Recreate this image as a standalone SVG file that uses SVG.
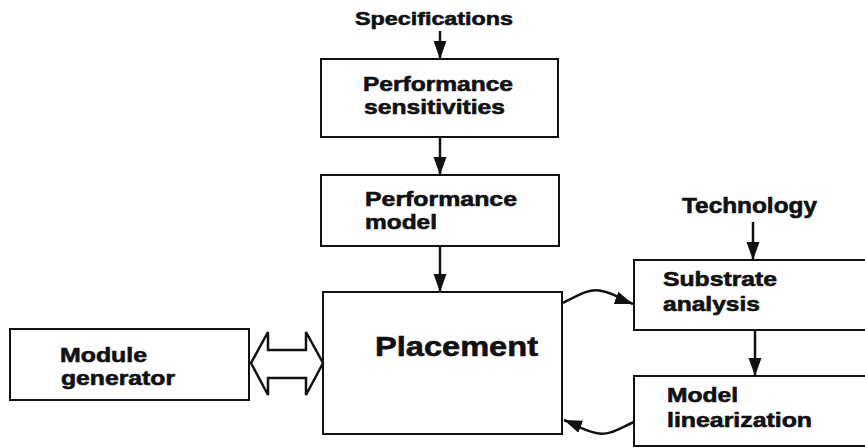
<svg xmlns="http://www.w3.org/2000/svg" width="865" height="448" viewBox="0 0 865 448">
  <style>
    .box { fill: #fff; stroke: #111; stroke-width: 2; }
    .lbl { font-family: "Liberation Sans", Arial, sans-serif; font-weight: bold; fill: #111; stroke: #111; stroke-width: 0.6; font-size: 20px; }
    .wire { fill: none; stroke: #111; stroke-width: 2.5; }
  </style>
  <defs>
    <marker id="head" markerUnits="userSpaceOnUse" markerWidth="19" markerHeight="14" refX="18" refY="6.5" orient="auto">
      <path d="M0,0 L18,6.5 L0,13 Z" fill="#111"/>
    </marker>
  </defs>
  <rect width="865" height="448" fill="#fff"/>

  <!-- free-standing inputs -->
  <text class="lbl" x="355" y="25" style="font-size:19px" textLength="158" lengthAdjust="spacingAndGlyphs">Specifications</text>
  <text class="lbl" x="682" y="213" style="font-size:22px" textLength="135" lengthAdjust="spacingAndGlyphs">Technology</text>

  <g id="perf-sensitivities">
    <rect class="box" x="321" y="59" width="237" height="78"/>
    <text class="lbl" x="363" y="91" textLength="150" lengthAdjust="spacingAndGlyphs">Performance</text>
    <text class="lbl" x="364" y="114" textLength="141" lengthAdjust="spacingAndGlyphs">sensitivities</text>
  </g>

  <g id="perf-model">
    <rect class="box" x="321" y="175" width="238" height="71"/>
    <text class="lbl" x="365" y="206" textLength="152" lengthAdjust="spacingAndGlyphs">Performance</text>
    <text class="lbl" x="365" y="229" textLength="72" lengthAdjust="spacingAndGlyphs">model</text>
  </g>

  <g id="placement">
    <rect class="box" x="323" y="292" width="239" height="142"/>
    <text class="lbl" x="375" y="356" style="font-size:28px" textLength="163" lengthAdjust="spacingAndGlyphs">Placement</text>
  </g>

  <g id="module-generator">
    <rect class="box" x="10" y="329" width="239" height="71"/>
    <text class="lbl" x="60" y="362" textLength="87" lengthAdjust="spacingAndGlyphs">Module</text>
    <text class="lbl" x="61" y="385" textLength="114" lengthAdjust="spacingAndGlyphs">generator</text>
  </g>

  <g id="substrate-analysis">
    <rect class="box" x="634" y="260" width="240" height="70"/>
    <text class="lbl" x="663" y="286" textLength="114" lengthAdjust="spacingAndGlyphs">Substrate</text>
    <text class="lbl" x="663" y="311" textLength="97" lengthAdjust="spacingAndGlyphs">analysis</text>
  </g>

  <g id="model-linearization">
    <rect class="box" x="634" y="376" width="240" height="70"/>
    <text class="lbl" x="667" y="402" textLength="71" lengthAdjust="spacingAndGlyphs">Model</text>
    <text class="lbl" x="667" y="427" textLength="145" lengthAdjust="spacingAndGlyphs">linearization</text>
  </g>

  <g id="connectors">
    <line class="wire" x1="440" y1="31" x2="440" y2="59" marker-end="url(#head)"/>
    <line class="wire" x1="440" y1="137" x2="440" y2="175" marker-end="url(#head)"/>
    <line class="wire" x1="440" y1="247" x2="440" y2="292" marker-end="url(#head)"/>
    <line class="wire" x1="753" y1="222" x2="753" y2="260" marker-end="url(#head)"/>
    <line class="wire" x1="755" y1="330" x2="755" y2="376" marker-end="url(#head)"/>
    <!-- placement to substrate analysis -->
    <path class="wire" d="M563,303 C580,294 590,288 602,291 C614,293 622,300 633,304" marker-end="url(#head)"/>
    <!-- model linearization back to placement -->
    <path class="wire" d="M634,422 C620,428 610,436 596,433 C584,431 574,424 564,420" marker-end="url(#head)"/>
    <!-- two-way exchange with the module generator -->
    <polygon points="251,363 268,332 268,350 306,350 306,332 323,363 306,395 306,378 268,378 268,395" fill="#fff" stroke="#111" stroke-width="2.5" stroke-linejoin="miter"/>
  </g>
</svg>
